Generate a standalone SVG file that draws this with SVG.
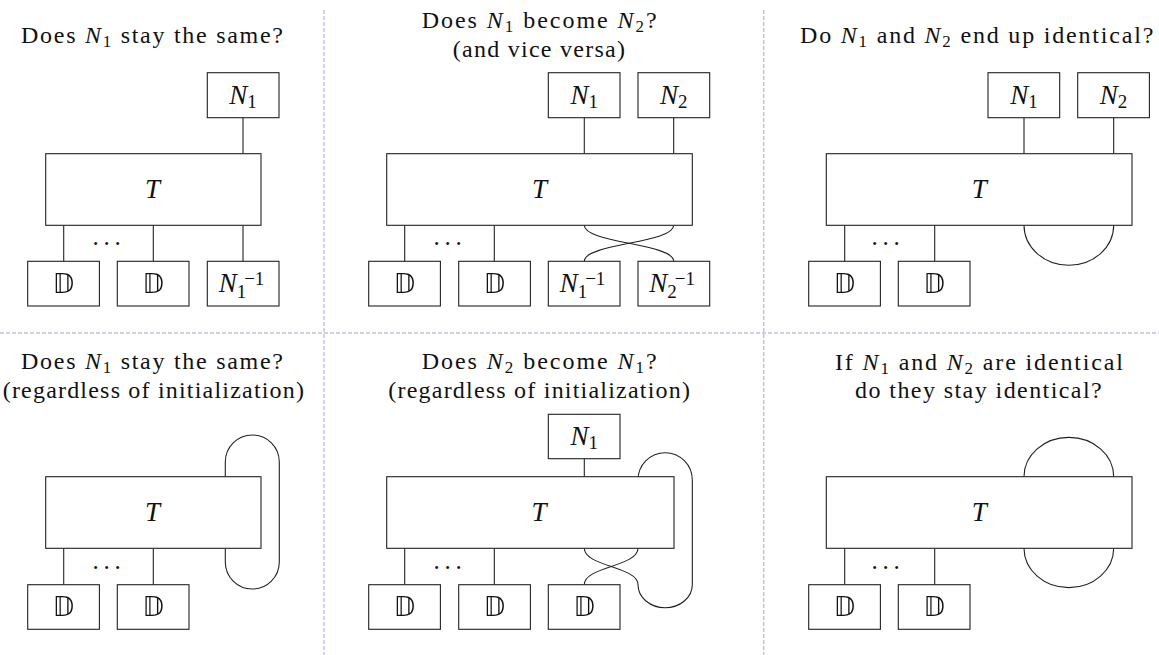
<svg xmlns="http://www.w3.org/2000/svg" width="1159" height="655" viewBox="0 0 1159 655">
<defs>
<filter id="gray" x="-10%" y="-10%" width="120%" height="120%"><feOffset dx="0" dy="0"/></filter>
</defs>
<style>
.bg{fill:#fff}
.box{fill:#fff;stroke:#222;stroke-width:1.1}
.wire{fill:none;stroke:#222;stroke-width:1.1}
.sep{fill:none;stroke:#c5bde6;stroke-width:1.4;stroke-dasharray:4 2}
.t{font-family:"Liberation Serif","Times New Roman",serif;font-size:24px;fill:#111}
.lbl{font-family:"Liberation Serif","Times New Roman",serif;font-size:27px;fill:#111}
.m{font-style:italic}
.s{font-size:17px;font-style:normal}
.ls{font-size:19px;font-style:normal}
.bb{font-family:"DejaVu Sans",sans-serif;font-size:26px;fill:#111;filter:url(#gray)}
.dots{font-family:"Liberation Serif",serif;font-size:25px;letter-spacing:4.75px;fill:#111}
</style>
<rect class="bg" x="0" y="0" width="1159" height="655"/>
<g id="separators">
<line class="sep" x1="324" y1="10" x2="324" y2="655"/>
<line class="sep" x1="763.7" y1="10" x2="763.7" y2="655"/>
<line class="sep" x1="0" y1="333" x2="1159" y2="333"/>
</g>
<g id="titles" class="t">
<text x="21" y="43.3" textLength="262">Does <tspan class="m">N</tspan><tspan class="s" dy="4">1</tspan><tspan dy="-4"> stay the same?</tspan></text>
<text x="421.7" y="28.3" textLength="235">Does <tspan class="m">N</tspan><tspan class="s" dy="4">1</tspan><tspan dy="-4"> become </tspan><tspan class="m">N</tspan><tspan class="s" dy="4">2</tspan><tspan dy="-4">?</tspan></text>
<text x="452.7" y="56.7" textLength="172.3">(and vice versa)</text>
<text x="800" y="43.3" textLength="353.3">Do <tspan class="m">N</tspan><tspan class="s" dy="4">1</tspan><tspan dy="-4"> and </tspan><tspan class="m">N</tspan><tspan class="s" dy="4">2</tspan><tspan dy="-4"> end up identical?</tspan></text>
<text x="21" y="369.3" textLength="262">Does <tspan class="m">N</tspan><tspan class="s" dy="4">1</tspan><tspan dy="-4"> stay the same?</tspan></text>
<text x="2.7" y="397.7" textLength="301.3">(regardless of initialization)</text>
<text x="421.7" y="369.3" textLength="235">Does <tspan class="m">N</tspan><tspan class="s" dy="4">2</tspan><tspan dy="-4"> become </tspan><tspan class="m">N</tspan><tspan class="s" dy="4">1</tspan><tspan dy="-4">?</tspan></text>
<text x="388.3" y="397.7" textLength="301.7">(regardless of initialization)</text>
<text x="835" y="369.5" textLength="288">If <tspan class="m">N</tspan><tspan class="s" dy="4">1</tspan><tspan dy="-4"> and </tspan><tspan class="m">N</tspan><tspan class="s" dy="4">2</tspan><tspan dy="-4"> are identical</tspan></text>
<text x="855" y="397.9" textLength="246.7">do they stay identical?</text>
</g>
<g id="connectors" class="wire">
<path d="M243 117.7V153.7M63.7 225.3V261.3M153.3 225.3V261.3M243 225.3V261.3"/>
<path d="M584.3 117.7V153.7M673.7 117.7V153.7M404.7 225.3V261.3M494.3 225.3V261.3"/>
<path d="M584.3 225.3C584.3 243.3 673.7 243.3 673.7 261.3"/>
<path d="M673.7 225.3C673.7 243.3 584.3 243.3 584.3 261.3"/>
<path d="M1024 117.7V153.7M1113.7 117.7V153.7M844.7 225.3V261.3M934.7 225.3V261.3"/>
<path d="M1024 225.3A44.85 40 0 0 0 1113.7 225.3"/>
<path d="M63.7 548.3V584.7M153.3 548.3V584.7"/>
<path d="M225.3 476.7V462A27 27 0 0 1 279.3 462V562A27 27 0 0 1 225.3 562V548.3"/>
<path d="M584.3 458.7V476.7M404.7 548.3V584.7M494.3 548.3V584.7"/>
<path d="M584.3 548.3C584.3 566.5 638 566.5 638 584.7A27.15 23 0 0 0 692.3 584.7V480A27.15 27.3 0 0 0 638 480V476.7"/>
<path d="M638 548.3C638 566.5 584.3 566.5 584.3 584.7"/>
<path d="M844.7 548.3V584.7M934.7 548.3V584.7"/>
<path d="M1024 476.7A44.85 39.4 0 0 1 1113.7 476.7"/>
<path d="M1024 548.3A44.85 39.4 0 0 0 1113.7 548.3"/>
</g>
<g id="dots" class="dots">
<text x="92.4" y="245">...</text>
<text x="433.4" y="245">...</text>
<text x="871.4" y="245">...</text>
<text x="92.4" y="568.5">...</text>
<text x="433.4" y="568.5">...</text>
<text x="871.4" y="568.5">...</text>
</g>
<g id="p1-N1"><rect class="box" x="207.3" y="72.7" width="71.7" height="45"/><text class="lbl" x="243" y="103.5" text-anchor="middle"><tspan class="m">N</tspan><tspan class="ls" dy="4">1</tspan></text></g>
<g id="p1-T"><rect class="box" x="45.7" y="153.7" width="215.3" height="71.6"/><text class="lbl m" x="152.5" y="197.5" text-anchor="middle">T</text></g>
<g id="p1-D1"><rect class="box" x="27.7" y="261.3" width="71.7" height="44.7"/><text class="bb" x="63.5" y="293" text-anchor="middle">𝔻</text></g>
<g id="p1-D2"><rect class="box" x="117.3" y="261.3" width="71.7" height="44.7"/><text class="bb" x="153.2" y="293" text-anchor="middle">𝔻</text></g>
<g id="p1-N1inv"><rect class="box" x="207.3" y="261.3" width="71.7" height="44.7"/><text class="lbl" x="241.5" y="292" text-anchor="middle"><tspan class="m">N</tspan><tspan class="ls" dy="5.5">1</tspan><tspan class="ls" dx="-2" dy="-13">−1</tspan></text></g>
<g id="p2-N1"><rect class="box" x="548.3" y="72.7" width="71.7" height="45"/><text class="lbl" x="584.2" y="103.5" text-anchor="middle"><tspan class="m">N</tspan><tspan class="ls" dy="4">1</tspan></text></g>
<g id="p2-N2"><rect class="box" x="638" y="72.7" width="71.7" height="45"/><text class="lbl" x="673.8" y="103.5" text-anchor="middle"><tspan class="m">N</tspan><tspan class="ls" dy="4">2</tspan></text></g>
<g id="p2-T"><rect class="box" x="386.7" y="153.7" width="305.6" height="71.6"/><text class="lbl m" x="539.5" y="197.5" text-anchor="middle">T</text></g>
<g id="p2-D1"><rect class="box" x="368.7" y="261.3" width="71.7" height="44.7"/><text class="bb" x="404.5" y="293" text-anchor="middle">𝔻</text></g>
<g id="p2-D2"><rect class="box" x="458.7" y="261.3" width="71.7" height="44.7"/><text class="bb" x="494.5" y="293" text-anchor="middle">𝔻</text></g>
<g id="p2-N1inv"><rect class="box" x="548.3" y="261.3" width="71.7" height="44.7"/><text class="lbl" x="582.5" y="292" text-anchor="middle"><tspan class="m">N</tspan><tspan class="ls" dy="5.5">1</tspan><tspan class="ls" dx="-2" dy="-13">−1</tspan></text></g>
<g id="p2-N2inv"><rect class="box" x="638" y="261.3" width="71.7" height="44.7"/><text class="lbl" x="672.2" y="292" text-anchor="middle"><tspan class="m">N</tspan><tspan class="ls" dy="5.5">2</tspan><tspan class="ls" dx="-2" dy="-13">−1</tspan></text></g>
<g id="p3-N1"><rect class="box" x="988" y="72.7" width="71.7" height="45"/><text class="lbl" x="1023.9" y="103.5" text-anchor="middle"><tspan class="m">N</tspan><tspan class="ls" dy="4">1</tspan></text></g>
<g id="p3-N2"><rect class="box" x="1077.7" y="72.7" width="71.7" height="45"/><text class="lbl" x="1113.5" y="103.5" text-anchor="middle"><tspan class="m">N</tspan><tspan class="ls" dy="4">2</tspan></text></g>
<g id="p3-T"><rect class="box" x="826.3" y="153.7" width="305.7" height="71.6"/><text class="lbl m" x="979.2" y="197.5" text-anchor="middle">T</text></g>
<g id="p3-D1"><rect class="box" x="808.7" y="261.3" width="71.7" height="44.7"/><text class="bb" x="844.5" y="293" text-anchor="middle">𝔻</text></g>
<g id="p3-D2"><rect class="box" x="898.3" y="261.3" width="71.7" height="44.7"/><text class="bb" x="934.2" y="293" text-anchor="middle">𝔻</text></g>
<g id="p4-T"><rect class="box" x="45.7" y="476.7" width="215.3" height="71.6"/><text class="lbl m" x="152.5" y="520.8" text-anchor="middle">T</text></g>
<g id="p4-D1"><rect class="box" x="27.7" y="584.7" width="71.7" height="44.6"/><text class="bb" x="63.5" y="616.3" text-anchor="middle">𝔻</text></g>
<g id="p4-D2"><rect class="box" x="117.3" y="584.7" width="71.7" height="44.6"/><text class="bb" x="153.2" y="616.3" text-anchor="middle">𝔻</text></g>
<g id="p5-N1"><rect class="box" x="548.3" y="414.3" width="71.7" height="44.4"/><text class="lbl" x="584.2" y="445" text-anchor="middle"><tspan class="m">N</tspan><tspan class="ls" dy="4">1</tspan></text></g>
<g id="p5-T"><rect class="box" x="386.7" y="476.7" width="287.3" height="71.6"/><text class="lbl m" x="539" y="520.8" text-anchor="middle">T</text></g>
<g id="p5-D1"><rect class="box" x="368.7" y="584.7" width="71.7" height="44.6"/><text class="bb" x="404.5" y="616.3" text-anchor="middle">𝔻</text></g>
<g id="p5-D2"><rect class="box" x="458.7" y="584.7" width="71.7" height="44.6"/><text class="bb" x="494.5" y="616.3" text-anchor="middle">𝔻</text></g>
<g id="p5-D3"><rect class="box" x="548.3" y="584.7" width="71.7" height="44.6"/><text class="bb" x="584.2" y="616.3" text-anchor="middle">𝔻</text></g>
<g id="p6-T"><rect class="box" x="826.3" y="476.7" width="305.7" height="71.6"/><text class="lbl m" x="979.2" y="520.8" text-anchor="middle">T</text></g>
<g id="p6-D1"><rect class="box" x="808.7" y="584.7" width="71.7" height="44.6"/><text class="bb" x="844.5" y="616.3" text-anchor="middle">𝔻</text></g>
<g id="p6-D2"><rect class="box" x="898.3" y="584.7" width="71.7" height="44.6"/><text class="bb" x="934.2" y="616.3" text-anchor="middle">𝔻</text></g>
</svg>
